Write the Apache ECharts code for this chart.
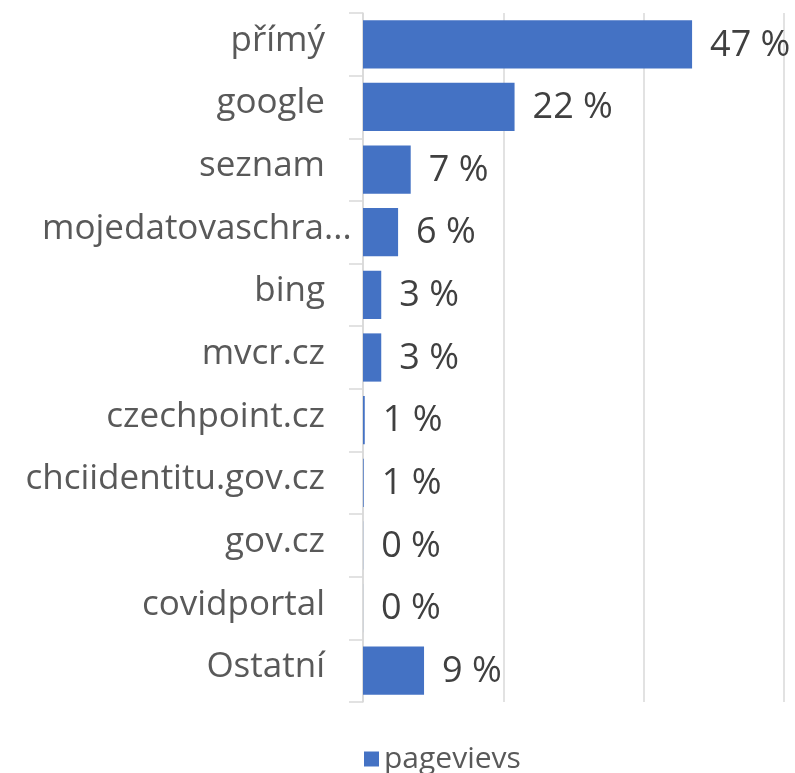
<!DOCTYPE html>
<html>
<head>
<meta charset="utf-8">
<script src="https://cdn.jsdelivr.net/npm/echarts@6/dist/echarts.min.js"></script>
<style>
  html, body { margin: 0; padding: 0; background: #fff; }
  #chart { width: 795px; height: 773px; }
</style>
</head>
<body>
<div id="chart"></div>
<script>
// Traffic sources, share of pageviews (%)
const categories = ['přímý', 'google', 'seznam', 'mojedatovaschra...', 'bing', 'mvcr.cz',
    'czechpoint.cz', 'chciidentitu.gov.cz', 'gov.cz', 'covidportal', 'Ostatní'];
const shares = [46.9, 21.6, 6.8, 5.0, 2.6, 2.6, 0.25, 0.1, 0.02, 0.01, 8.7];
const shareLabels = ['47 %', '22 %', '7 %', '6 %', '3 %', '3 %', '1 %', '1 %', '0 %', '0 %', '9 %'];
const seriesName = 'pagevievs';

const FONT = '"Open Sans", "Noto Sans", sans-serif';
const GRID_COLOR = '#d9d9d9';
const LABEL_COLOR = '#595959';

const chart = echarts.init(document.getElementById('chart'), null, { renderer: 'canvas' });

// Truncated names: the trailing dots hang past the label edge
const formatCategory = (value) => {
    if (value.endsWith('...')) {
        return '{base|' + value.slice(0, -3) + '}{dots|...}';
    }
    return value;
};

const richText = { fontSize: 35, color: LABEL_COLOR, fontFamily: FONT, align: 'left' };

chart.setOption({
    backgroundColor: '#fff',
    animation: false,
    textStyle: { fontFamily: FONT },
    grid: { left: 363, right: 11, top: 13, bottom: 71, containLabel: false },
    legend: {
        left: 359,
        top: 739,
        itemWidth: 15,
        itemHeight: 15,
        itemGap: 10,
        icon: 'rect',
        textStyle: { fontSize: 30, color: LABEL_COLOR, fontFamily: FONT, padding: [0, 0, 2, 0] },
        data: [seriesName]
    },
    xAxis: {
        type: 'value',
        min: 0,
        max: 60,
        interval: 20,
        axisLabel: { show: false },
        axisLine: { show: false },
        axisTick: { show: false },
        splitLine: { lineStyle: { color: GRID_COLOR, width: 1.5 } }
    },
    yAxis: {
        type: 'category',
        inverse: true,
        data: categories,
        axisLine: { show: true, lineStyle: { color: GRID_COLOR, width: 1.5 } },
        axisTick: { show: true, length: 14, lineStyle: { color: GRID_COLOR, width: 1.5 } },
        axisLabel: {
            margin: 38,
            fontSize: 35,
            color: LABEL_COLOR,
            fontFamily: FONT,
            padding: [0, 0, 7, 0],
            formatter: formatCategory,
            rich: {
                base: richText,
                dots: Object.assign({}, richText, { width: 1 })
            }
        }
    },
    series: [{
        name: seriesName,
        type: 'bar',
        data: shares,
        barCategoryGap: '23%',
        itemStyle: { color: '#4472c4' },
        label: {
            show: true,
            position: 'right',
            distance: 18,
            offset: [0, 1],
            fontSize: 36,
            color: '#404040',
            fontFamily: FONT,
            formatter: (p) => shareLabels[p.dataIndex]
        }
    }]
});
</script>
</body>
</html>
